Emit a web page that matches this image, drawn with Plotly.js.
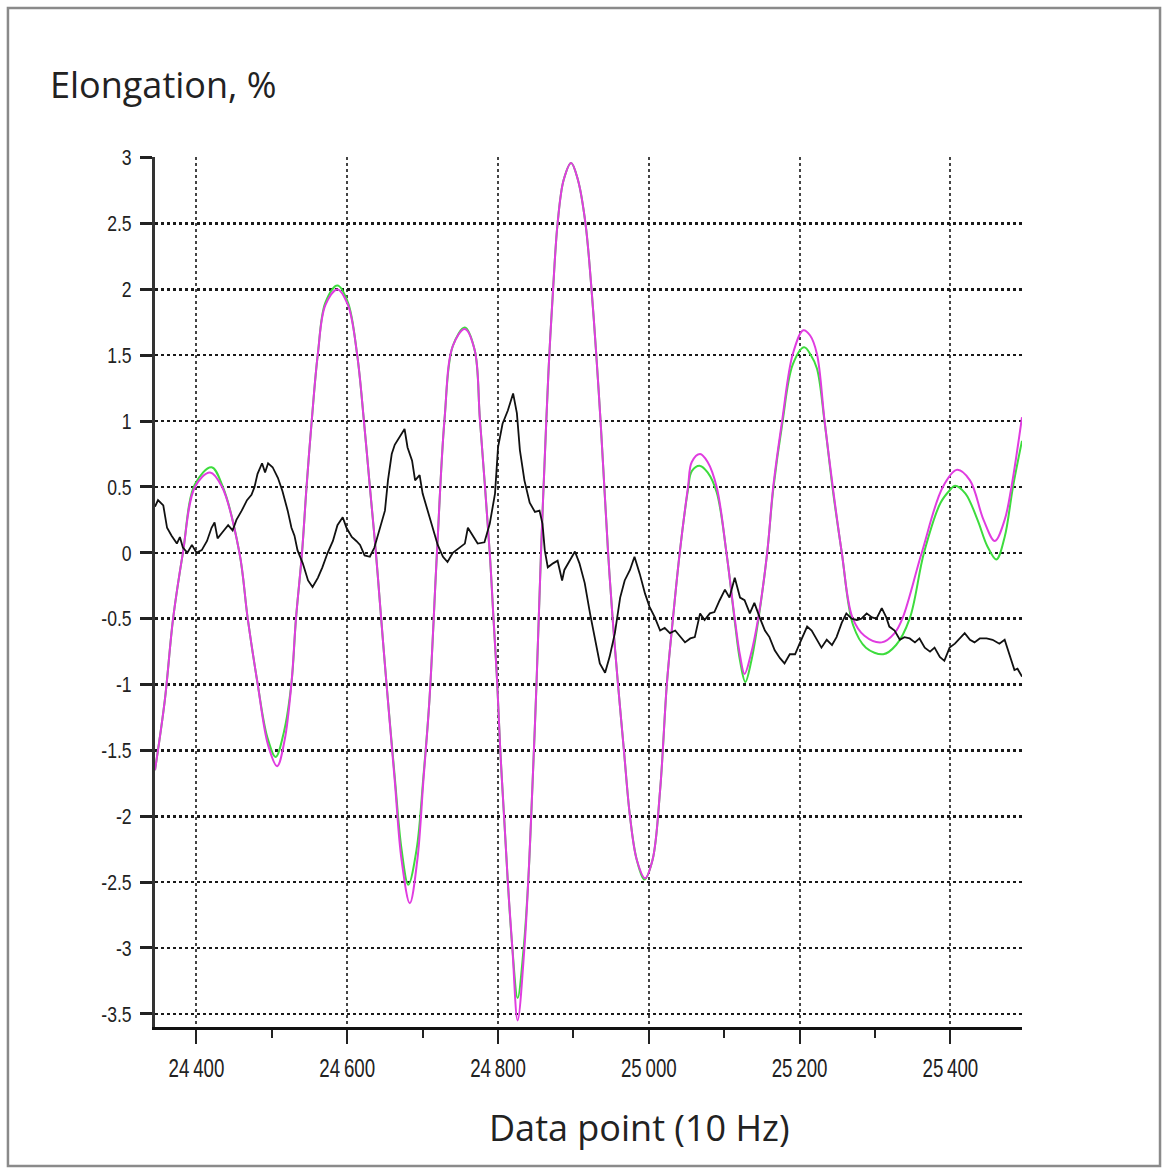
<!DOCTYPE html>
<html>
<head>
<meta charset="utf-8">
<script src="https://cdn.plot.ly/plotly-3.0.1.min.js"></script>
<style>html,body{margin:0;padding:0;background:#fff;}</style>
</head>
<body>
<div id="chart" style="width:1167px;height:1169px;"></div>
<script>
// ---- Data ----
const blackX = [24345,24349,24356,24361,24367,24374,24378,24382,24388,24394,24400,24407,24414,24420,24424,24428,24435,24442,24448,24453,24460,24467,24473,24477,24481,24487,24491,24495,24501,24508,24514,24521,24526,24530,24534,24541,24548,24554,24561,24567,24574,24581,24587,24594,24599,24606,24612,24617,24623,24630,24636,24643,24650,24654,24659,24663,24670,24676,24680,24686,24690,24696,24700,24707,24713,24720,24727,24733,24740,24749,24756,24760,24767,24773,24782,24789,24796,24800,24806,24813,24820,24825,24829,24835,24842,24849,24855,24859,24862,24866,24873,24879,24885,24888,24895,24902,24908,24915,24922,24928,24935,24942,24948,24955,24962,24968,24975,24981,24988,24995,25001,25008,25015,25021,25028,25035,25041,25048,25055,25061,25068,25074,25081,25087,25094,25101,25107,25114,25121,25127,25134,25140,25147,25154,25160,25167,25174,25180,25187,25194,25200,25210,25216,25223,25229,25236,25243,25249,25256,25262,25269,25276,25282,25289,25296,25302,25309,25315,25319,25326,25333,25339,25346,25353,25359,25366,25373,25379,25386,25392,25399,25406,25412,25419,25426,25432,25439,25448,25456,25465,25472,25478,25485,25489,25495];
const blackY = [0.35,0.40,0.36,0.19,0.13,0.07,0.12,0.04,0.00,0.06,0.00,0.02,0.09,0.19,0.23,0.11,0.16,0.21,0.17,0.25,0.32,0.40,0.44,0.50,0.60,0.68,0.61,0.68,0.65,0.57,0.47,0.32,0.19,0.13,0.02,-0.08,-0.21,-0.26,-0.19,-0.11,0.00,0.09,0.21,0.27,0.19,0.12,0.09,0.06,-0.02,-0.03,0.04,0.19,0.32,0.55,0.75,0.82,0.88,0.94,0.80,0.70,0.55,0.59,0.45,0.32,0.19,0.06,-0.03,-0.07,0.00,0.04,0.07,0.19,0.13,0.07,0.08,0.22,0.45,0.80,0.98,1.08,1.21,1.06,0.78,0.55,0.38,0.31,0.32,0.22,0.02,-0.11,-0.08,-0.06,-0.21,-0.13,-0.06,0.01,-0.08,-0.23,-0.46,-0.64,-0.84,-0.91,-0.79,-0.61,-0.34,-0.21,-0.13,-0.03,-0.16,-0.31,-0.41,-0.49,-0.59,-0.57,-0.61,-0.59,-0.63,-0.68,-0.65,-0.64,-0.46,-0.51,-0.46,-0.45,-0.36,-0.28,-0.34,-0.19,-0.34,-0.36,-0.46,-0.38,-0.49,-0.59,-0.64,-0.74,-0.80,-0.84,-0.77,-0.77,-0.69,-0.56,-0.59,-0.66,-0.72,-0.66,-0.70,-0.64,-0.53,-0.46,-0.50,-0.51,-0.50,-0.46,-0.49,-0.50,-0.42,-0.49,-0.56,-0.59,-0.66,-0.64,-0.65,-0.68,-0.65,-0.72,-0.75,-0.72,-0.79,-0.82,-0.72,-0.69,-0.65,-0.61,-0.66,-0.68,-0.65,-0.65,-0.66,-0.69,-0.66,-0.76,-0.89,-0.88,-0.94];

const magentaX = [24345,24358,24369,24382,24398,24418,24434,24457,24468,24481,24495,24507,24517,24526,24532,24540,24546,24553,24561,24571,24587,24601,24613,24622,24630,24638,24645,24652,24663,24672,24683,24693,24701,24709,24719,24729,24740,24756,24769,24776,24789,24794,24799,24803,24808,24813,24819,24826,24835,24840,24844,24851,24857,24864,24868,24873,24879,24887,24897,24906,24916,24924,24930,24936,24941,24946,24952,24959,24967,24975,24984,24995,25005,25015,25024,25032,25041,25052,25057,25068,25078,25090,25103,25114,25121,25127,25135,25145,25157,25165,25177,25191,25205,25214,25223,25233,25244,25256,25270,25286,25309,25326,25337,25362,25390,25409,25426,25444,25459,25472,25481,25495];
const magentaY = [-1.65,-1.12,-0.50,0.00,0.50,0.61,0.50,0.00,-0.50,-0.99,-1.46,-1.62,-1.42,-0.99,-0.50,0.00,0.50,1.01,1.51,1.88,2.00,1.88,1.51,1.01,0.50,0.00,-0.50,-0.99,-1.73,-2.33,-2.66,-2.33,-1.73,-1.12,0.00,1.01,1.57,1.70,1.54,1.01,0.00,-0.50,-1.00,-1.50,-2.00,-2.50,-3.00,-3.55,-3.00,-2.50,-2.00,-1.00,0.00,1.00,1.50,2.00,2.50,2.83,2.96,2.83,2.50,2.00,1.53,1.00,0.50,0.00,-0.50,-0.99,-1.50,-2.00,-2.33,-2.47,-2.33,-1.80,-0.99,-0.50,0.00,0.50,0.69,0.75,0.69,0.50,0.00,-0.50,-0.78,-0.92,-0.78,-0.50,0.00,0.50,1.01,1.51,1.69,1.65,1.51,1.01,0.50,0.00,-0.49,-0.63,-0.68,-0.61,-0.49,0.00,0.50,0.63,0.55,0.25,0.09,0.25,0.50,1.03];

const greenX = [24345,24358,24369,24382,24398,24420,24435,24457,24468,24481,24494,24505,24516,24526,24532,24540,24546,24553,24561,24571,24587,24601,24613,24622,24630,24638,24645,24652,24663,24672,24681,24692,24701,24709,24719,24729,24740,24756,24769,24776,24789,24794,24799,24803,24808,24813,24819,24826,24834,24840,24844,24851,24857,24864,24868,24873,24879,24887,24897,24906,24916,24924,24930,24936,24941,24946,24952,24959,24967,24975,24984,24994,25005,25015,25024,25032,25041,25052,25057,25068,25078,25090,25103,25114,25121,25128,25136,25145,25157,25165,25177,25191,25206,25215,25223,25233,25244,25256,25271,25288,25311,25328,25346,25365,25387,25400,25406,25420,25436,25449,25461,25472,25483,25495];
const greenY = [-1.65,-1.12,-0.50,0.00,0.52,0.65,0.50,0.00,-0.50,-0.99,-1.40,-1.55,-1.36,-0.99,-0.50,0.00,0.50,1.01,1.51,1.90,2.03,1.90,1.51,1.01,0.50,0.00,-0.50,-0.99,-1.70,-2.25,-2.52,-2.25,-1.70,-1.12,0.00,1.01,1.57,1.71,1.54,1.01,0.00,-0.50,-1.00,-1.50,-2.00,-2.50,-3.00,-3.38,-3.00,-2.50,-2.00,-1.00,0.00,1.00,1.50,2.00,2.50,2.83,2.96,2.83,2.50,2.00,1.53,1.00,0.50,0.00,-0.50,-0.99,-1.50,-2.00,-2.33,-2.48,-2.33,-1.80,-0.99,-0.50,0.00,0.48,0.62,0.66,0.61,0.46,0.00,-0.52,-0.82,-0.98,-0.82,-0.52,0.00,0.48,0.98,1.43,1.56,1.50,1.40,1.00,0.48,0.00,-0.55,-0.72,-0.77,-0.70,-0.50,0.00,0.38,0.48,0.51,0.45,0.25,0.05,-0.05,0.12,0.50,0.85];

const xTickVals = [24400,24600,24800,25000,25200,25400];
const xTickText = ['24\u2009400','24\u2009600','24\u2009800','25\u2009000','25\u2009200','25\u2009400'];
const xMinorVals = [24500,24700,24900,25100,25300];
const yTickVals = [3,2.5,2,1.5,1,0.5,0,-0.5,-1,-1.5,-2,-2.5,-3,-3.5];
const yTickText = ['3','2.5','2','1.5','1','0.5','0','-0.5','-1','-1.5','-2','-2.5','-3','-3.5'];

// ---- Plot ----
const tickFamily = 'Liberation Sans, Arial, sans-serif';
const traces = [
  {x: greenX, y: greenY, type: 'scatter', mode: 'lines', line: {color: '#3ddc3d', width: 2, shape: 'spline', smoothing: 1}, hoverinfo: 'skip'},
  {x: magentaX, y: magentaY, type: 'scatter', mode: 'lines', line: {color: '#e03ce0', width: 2, shape: 'spline', smoothing: 1}, hoverinfo: 'skip'},
  {x: blackX, y: blackY, type: 'scatter', mode: 'lines', line: {color: '#111111', width: 1.8}, hoverinfo: 'skip'}
];

const layout = {
  width: 1167, height: 1169,
  margin: {l: 155, r: 145, t: 157, b: 142, pad: 0},
  paper_bgcolor: '#ffffff', plot_bgcolor: '#ffffff',
  showlegend: false,
  title: {
    text: 'Elongation, %', xref: 'container', yref: 'container',
    x: 50 / 1167, xanchor: 'left', y: 1 - 85 / 1169, yanchor: 'middle',
    font: {family: 'Open Sans, sans-serif', size: 36, color: '#222'}
  },
  xaxis: {
    range: [24345, 25495],
    tickmode: 'array', tickvals: xTickVals, ticktext: xTickText,
    ticks: 'outside', ticklen: 14, tickwidth: 2, tickcolor: '#222',
    ticklabelstandoff: 2,
    showline: true, linewidth: 3, linecolor: '#111',
    showgrid: true, gridcolor: '#444', gridwidth: 2, griddash: 'dot',
    zeroline: false,
    tickfont: {family: tickFamily, size: 26, color: '#222'},
    minor: {tickmode: 'array', tickvals: xMinorVals, ticks: 'outside', ticklen: 8, tickwidth: 2, tickcolor: '#222', showgrid: false}
  },
  yaxis: {
    range: [-3.6, 3.005],
    tickmode: 'array', tickvals: yTickVals, ticktext: yTickText,
    ticks: 'outside', ticklen: 12, tickwidth: 3, tickcolor: '#222',
    ticklabelstandoff: 4,
    showline: true, linewidth: 3, linecolor: '#333',
    showgrid: true, gridcolor: '#1a1a1a', gridwidth: 2.5, griddash: 'dot',
    zeroline: false,
    tickfont: {family: tickFamily, size: 22, color: '#222'}
  },
  annotations: [{
    text: 'Data point (10 Hz)', xref: 'paper', yref: 'paper',
    x: 0.559, y: -0.116, xanchor: 'center', yanchor: 'middle', showarrow: false,
    font: {family: 'Open Sans, sans-serif', size: 36, color: '#222'}
  }],
  shapes: [{
    type: 'rect', xref: 'paper', yref: 'paper',
    x0: -0.1696, x1: 1.1592, y0: -0.1598, y1: 1.1713,
    line: {color: '#8a8a8a', width: 2.5}, layer: 'below'
  }]
};

// condense the tick labels horizontally around their own anchor point
// (the reference uses a narrow face that is not installed)
function condense(sel, sx) {
  document.querySelectorAll(sel).forEach(function (t) {
    const tr = t.getAttribute('transform') || '';
    if (tr.indexOf('scale') !== -1) return;
    const ax = parseFloat(t.getAttribute('x')) || 0;
    t.setAttribute('transform', tr + ' translate(' + ax + ',0) scale(' + sx + ',1) translate(' + (-ax) + ',0)');
  });
}

Plotly.newPlot('chart', traces, layout, {displayModeBar: false, staticPlot: true}).then(function () {
  condense('.xtick text', 0.72);
  condense('.ytick text', 0.8);
});
</script>
</body>
</html>
